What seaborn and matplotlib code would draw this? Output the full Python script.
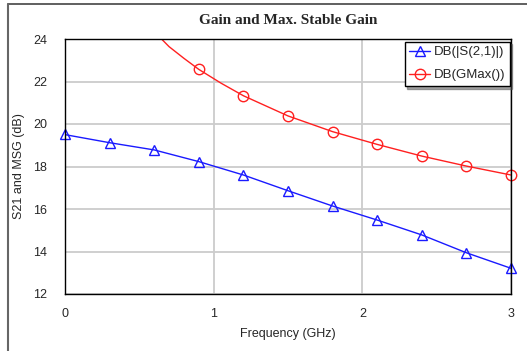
import matplotlib
matplotlib.use("Agg")
import matplotlib.pyplot as plt
from matplotlib.lines import Line2D
import seaborn as sns

# values
freq_s21 = [0.0, 0.3, 0.6, 0.9, 1.2, 1.5, 1.8, 2.1, 2.4, 2.7, 3.0]
s21_db = [19.50, 19.12, 18.78, 18.23, 17.60, 16.86, 16.14, 15.48, 14.78, 13.94, 13.21]
s21_markers = [19.53, 19.12, 18.78, 18.23, 17.60, 16.86, 16.14, 15.48, 14.78, 13.94, 13.21]

freq_gmax_line = [0.6, 0.7, 0.8, 0.9, 1.05, 1.2, 1.5, 1.8, 2.1, 2.4, 2.7, 3.0]
gmax_line_db = [24.35, 23.64, 23.09, 22.57, 21.92, 21.33, 20.38, 19.64, 19.04, 18.49, 18.02, 17.60]
freq_gmax = [0.9, 1.2, 1.5, 1.8, 2.1, 2.4, 2.7, 3.0]
gmax_db = [22.57, 21.33, 20.38, 19.64, 19.04, 18.49, 18.02, 17.60]

x_ticks = [0, 1, 2, 3]
y_ticks = [12, 14, 16, 18, 20, 22, 24]

sns.set_style("white")
plt.rcParams['font.family'] = ['Liberation Sans', 'DejaVu Sans']

fig = plt.figure(figsize=(5.27, 3.51), dpi=100)
ax = fig.add_axes([65 / 527, 1 - 294 / 351, 446 / 527, 255 / 351])

blue = "#1a1aff"
red = "#ff2020"

# lines
sns.lineplot(x=freq_s21, y=s21_db, color=blue, lw=1, ax=ax, legend=False)
sns.lineplot(x=freq_gmax_line, y=gmax_line_db, color=red, lw=1, ax=ax, legend=False)
# hollow markers
ax.plot(freq_s21, s21_markers, ls="none", marker="^", ms=6.5, mfc="none", mec=blue, mew=1, clip_on=False)
ax.plot(freq_gmax, gmax_db, ls="none", marker="o", ms=7.5, mfc="none", mec=red, mew=1, clip_on=False)

ax.set_xlim(0, 3)
ax.set_ylim(12, 24)
ax.set_xticks(x_ticks)
ax.set_yticks(y_ticks)
ax.tick_params(axis="x", length=0, pad=10, labelsize=9)
ax.tick_params(axis="y", length=0, pad=18, labelsize=9)
for lab in ax.get_yticklabels():
    lab.set_horizontalalignment("center")
ax.grid(True, color="#cccccc", lw=1.3)
for sp in ax.spines.values():
    sp.set_color("black")
    sp.set_linewidth(1)
    sp.set_visible(True)

ax.set_xlabel("Frequency (GHz)", fontsize=9, labelpad=6)
ax.set_ylabel("S21 and MSG (dB)", fontsize=9)
ax.yaxis.set_label_coords(-(65 - 25) / 446, 0.5)
ax.set_title("Gain and Max. Stable Gain", fontsize=11, fontweight="bold",
             family=["Liberation Serif", "DejaVu Serif"], pad=11)

handles = [
    Line2D([], [], color=blue, lw=1, marker="^", ms=6.5, mfc="none", mec=blue),
    Line2D([], [], color=red, lw=1, marker="o", ms=7.5, mfc="none", mec=red),
]
leg = ax.legend(handles, ["DB(|S(2,1)|)", "DB(GMax())"], loc="upper right",
                bbox_to_anchor=(1.0, 0.995), fontsize=9.5, frameon=True, fancybox=False,
                shadow=True, edgecolor="black", handlelength=1.6, handletextpad=0.25,
                borderpad=0.35, labelspacing=0.8, borderaxespad=0.1)
leg.get_frame().set_linewidth(1)

# outer frame of the original window
fig.add_artist(Line2D([7.5 / 527, 1], [1 - 3.5 / 351] * 2, color="#444444", lw=1.2))
fig.add_artist(Line2D([7.5 / 527] * 2, [0, 1 - 3.5 / 351], color="#666666", lw=1.5))

fig.savefig("out.png", dpi=100)
